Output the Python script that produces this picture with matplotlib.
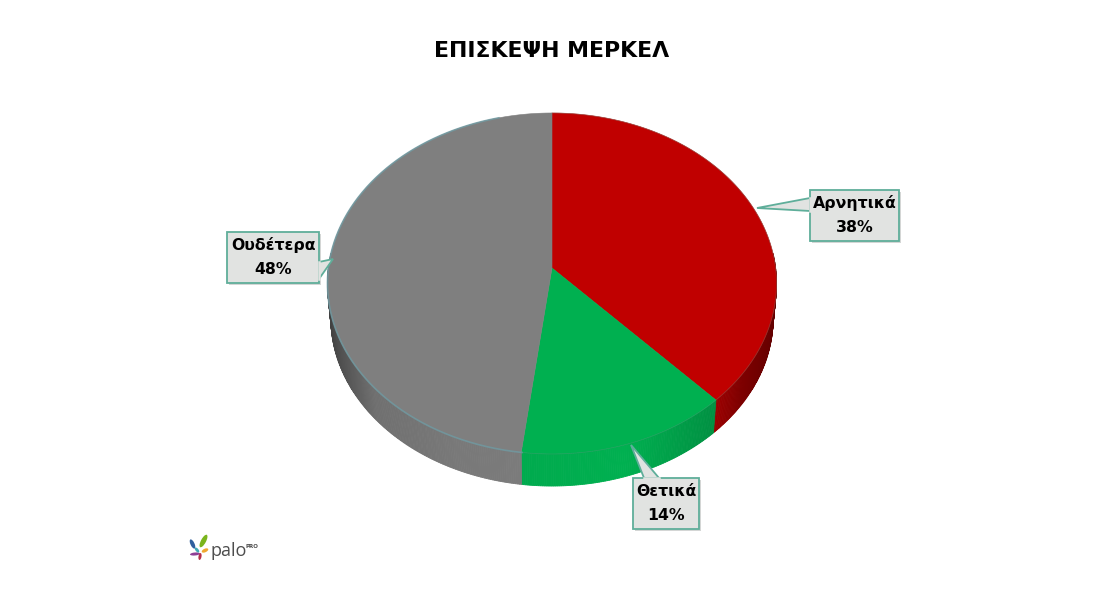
import numpy as np
import matplotlib
matplotlib.use("Agg")
import matplotlib.pyplot as plt
from matplotlib.patches import Polygon, Ellipse

title = "ΕΠΙΣΚΕΨΗ ΜΕΡΚΕΛ"
categories = ["Αρνητικά", "Θετικά", "Ουδέτερα"]
values = [38, 14, 48]
colors = ["#c00000", "#00b050", "#7f7f7f"]

# callouts, in pixels: box x0, y0, x1, y1 and pointer
boxes = [
    (810, 190, 899, 241),
    (633, 478, 699, 529),
    (227, 232, 319, 283),
]
pointers = [
    [(810, 198), (757, 208), (810, 211)],
    [(644, 478), (631, 445), (659, 478)],
    [(319, 279), (333, 259), (319, 262)],
]

APEX_X, APEX_Y = 552, 268
SX, SY, PERSP = 223.6, 169.1, 0.0909
DEPTH, BOTTOM_SCALE = 34.8, 0.985


def project(theta, scale=1.0, dy=0.0):
    # theta in degrees, clockwise from 12 o'clock, tilted disc with perspective
    t = np.radians(theta)
    u, v = np.sin(t), np.cos(t)
    d = 1 + PERSP * v
    return np.column_stack([
        APEX_X + scale * SX * u / d,
        APEX_Y + dy - scale * SY * v / d,
    ])


def wall_shade(theta):
    u = np.sin(np.radians(theta))
    return np.interp(u, [-1, -0.93, -0.75, -0.4, 0.3, 0.68, 0.8, 1],
                     [0.5, 0.62, 0.88, 0.95, 1.0, 0.82, 0.66, 0.5])


fig = plt.figure(figsize=(10.99, 5.91), dpi=100, facecolor="white")
ax = fig.add_axes([0, 0, 1, 1])
ax.set_xlim(0, 1099)
ax.set_ylim(591, 0)
ax.axis("off")

ends = np.cumsum(values) / np.sum(values) * 360
starts = np.concatenate([[0], ends[:-1]])

# side wall
for start, end, color in zip(starts, ends, colors):
    rgb = np.array(matplotlib.colors.to_rgb(color))
    lo, hi = max(start, 85), min(end, 275)
    if hi <= lo:
        continue
    edges = np.linspace(lo, hi, int((hi - lo) * 2) + 2)
    for a, b in zip(edges[:-1], edges[1:]):
        pair = np.array([a, b])
        quad = np.vstack([project(pair), project(pair[::-1], BOTTOM_SCALE, DEPTH)])
        shade = rgb * wall_shade((a + b) / 2)
        ax.add_patch(Polygon(quad, closed=True, fc=shade, ec=shade, lw=0.6, zorder=2))

# top face
for start, end, color in zip(starts, ends, colors):
    arc = project(np.linspace(start, end, 200))
    pts = np.vstack([[APEX_X, APEX_Y], arc])
    ax.add_patch(Polygon(pts, closed=True, fc=color, ec=color, lw=0.4, zorder=3))

# thin rim around the disc
rim = project(np.linspace(187, 345, 300))
ax.plot(rim[:, 0], rim[:, 1], color="#6f9aa2", lw=1.2, alpha=0.8, zorder=4)
rim = project(np.linspace(0, 187, 300))
ax.plot(rim[:, 0], rim[:, 1], color="#5f8f7f", lw=0.6, alpha=0.35, zorder=4)

# callouts
for cat, val, box, ptr in zip(categories, values, boxes, pointers):
    x0, y0, x1, y1 = box
    ax.add_patch(Polygon([(x0 + 2, y0 + 2), (x1 + 2, y0 + 2), (x1 + 2, y1 + 2), (x0 + 2, y1 + 2)],
                         closed=True, fc="#b8bcba", ec="none", alpha=0.6, zorder=5))
    ax.add_patch(Polygon(ptr, closed=True, fc="#e1e3e1", ec="#5fae9a", lw=1.3, zorder=6))
    ax.add_patch(Polygon([(x0, y0), (x1, y0), (x1, y1), (x0, y1)], closed=True,
                         fc="#e1e3e1", ec="#5fae9a", lw=1.3, zorder=6))
    # hide the seam between pointer and box
    ax.plot([ptr[0][0], ptr[2][0]], [ptr[0][1], ptr[2][1]],
            color="#e1e3e1", lw=1.8, zorder=7)
    cx = (x0 + x1) / 2
    ax.text(cx, y0 + 13, cat, ha="center", va="center", fontsize=11.3,
            fontweight="bold", color="black", zorder=8)
    ax.text(cx, y0 + 37, f"{val}%", ha="center", va="center", fontsize=11.3,
            fontweight="bold", color="black", zorder=8)

ax.text(552, 51, title, ha="center", va="center", fontsize=15.8,
        fontweight="bold", color="black", zorder=8)

# logo
leaves = [
    (203.5, 541, 5, 14, 28, "#7ab51d"),
    (192.5, 544, 4, 10, -25, "#2f5f9e"),
    (205, 550.5, 3.5, 7, 65, "#f0a830"),
    (195, 554, 3, 10, 85, "#8e3f95"),
    (200, 556.5, 3, 7, 10, "#b5304a"),
    (197, 550, 3, 6, -40, "#3fa9b5"),
]
for lx, ly, w, h, ang, c in leaves:
    ax.add_patch(Ellipse((lx, ly), w, h, angle=ang, fc=c, ec="none", zorder=5))
ax.text(210, 551, "palo", ha="left", va="center", fontsize=13, color="#4d4d4d",
        family="Open Sans", zorder=5)
ax.text(246, 547, "PRO", ha="left", va="center", fontsize=4, color="#4d4d4d",
        fontweight="bold", zorder=5)

fig.savefig("out.png", dpi=100, facecolor="white")
plt.close(fig)
